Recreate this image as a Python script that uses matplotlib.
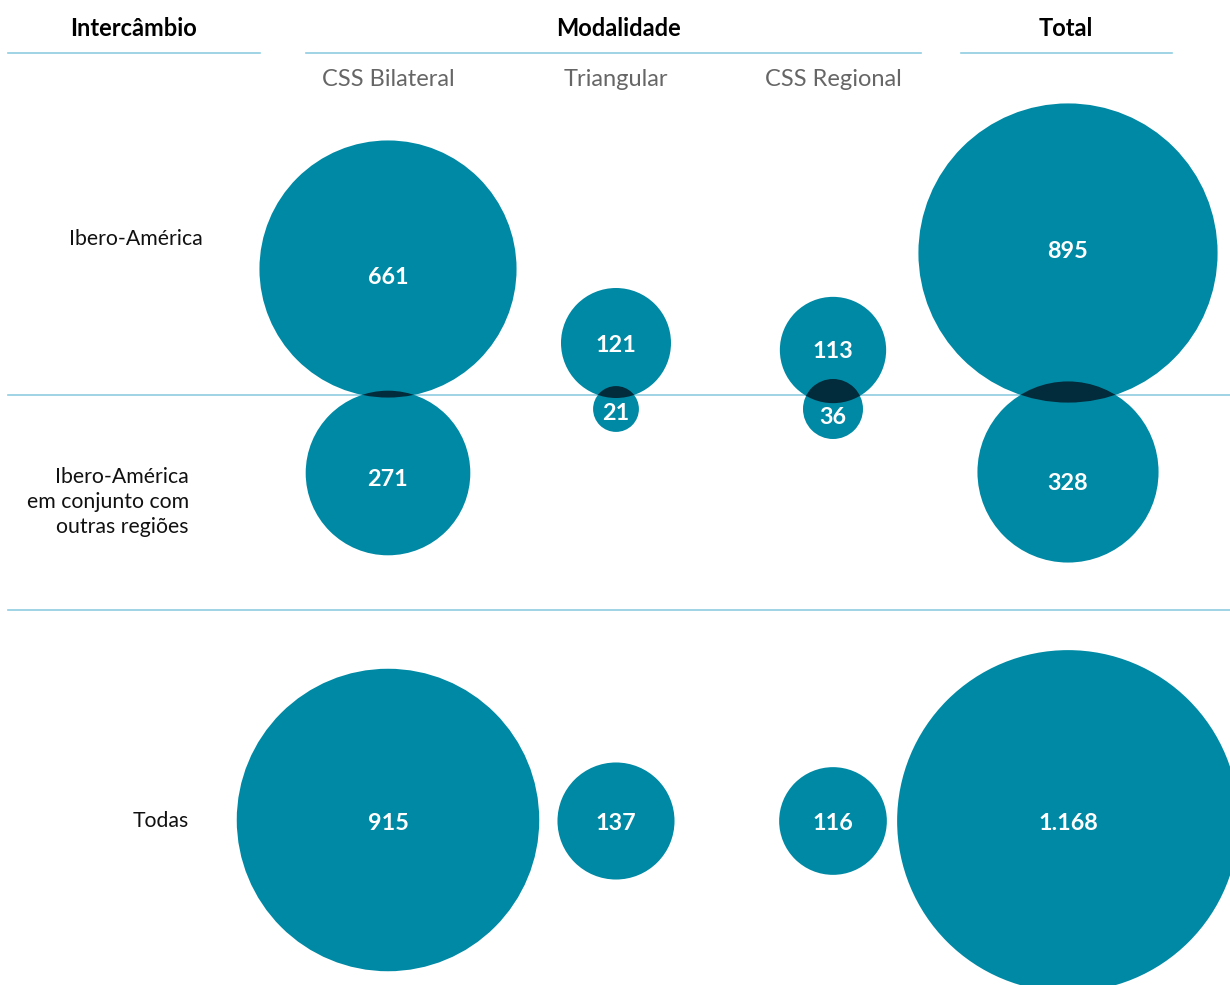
import matplotlib.pyplot as plt
from matplotlib.patches import Circle
import numpy as np

plt.rcParams['font.family'] = ['Lato', 'DejaVu Sans']

modalities = ["CSS Bilateral", "Triangular", "CSS Regional"]
ibero = [661, 121, 113, 895]
ibero_outras = [271, 21, 36, 328]
todas = [915, 137, 116, 1168]

teal = '#0089A4'
dark = '#022B3B'
rule = '#8FCDE2'

# layout (pixels)
col_x = [388, 616, 833, 1068]
row1_y = [269, 343, 350, 253]
row2_y = [473, 409, 409, 472]
row3_y = [820, 821, 821, 821]
row1_ty = [278, 345, 351, 252]
row2_ty = [479, 414, 418, 483]
row3_ty = [824, 824, 824, 824]
scale = 5.0


def fmt(v):
    return f"{v:,}".replace(",", ".")


fig = plt.figure(figsize=(12.3, 9.85), dpi=100)
ax = fig.add_axes([0, 0, 1, 1])
ax.set_xlim(0, 1230)
ax.set_ylim(985, 0)
ax.set_aspect('equal')
ax.axis('off')

# header rules and row dividers
ax.plot([8, 260], [53, 53], color=rule, lw=1.2)
ax.plot([306, 921], [53, 53], color=rule, lw=1.2)
ax.plot([961, 1172], [53, 53], color=rule, lw=1.2)
ax.plot([8, 1230], [395, 395], color=rule, lw=1.2)
ax.plot([8, 1230], [610, 610], color=rule, lw=1.2)

ax.text(134, 29, "Intercâmbio", ha='center', va='center', fontsize=17, fontweight='bold', color='black')
ax.text(619, 29, "Modalidade", ha='center', va='center', fontsize=17, fontweight='bold', color='black')
ax.text(1066, 29, "Total", ha='center', va='center', fontsize=17, fontweight='bold', color='black')
for x, m in zip(col_x, modalities):
    ax.text(x, 80, m, ha='center', va='center', fontsize=17, color='#666666')

ax.text(203, 239, "Ibero-América", ha='right', va='center', fontsize=15.3, color='#111111')
ax.text(189, 502, "Ibero-América\nem conjunto com\noutras regiões", ha='right', va='center',
        fontsize=15.3, color='#111111', linespacing=1.3, multialignment='right')
ax.text(189, 821, "Todas", ha='right', va='center', fontsize=15.3, color='#111111')

for vals, ys in [(ibero, row1_y), (ibero_outras, row2_y), (todas, row3_y)]:
    for x, y, v in zip(col_x, ys, vals):
        ax.add_patch(Circle((x, y), scale * np.sqrt(v), color=teal, lw=0, zorder=2))

# darker overlap between row 1 and row 2 circles
for i, x in enumerate(col_x):
    upper = Circle((x, row1_y[i]), scale * np.sqrt(ibero[i]), color='none', lw=0, zorder=1)
    ax.add_patch(upper)
    upper.set_visible(False)
    ov = Circle((x, row2_y[i]), scale * np.sqrt(ibero_outras[i]), color=dark, lw=0, zorder=3)
    ax.add_patch(ov)
    ov.set_clip_path(upper)

for vals, ys in [(ibero, row1_ty), (ibero_outras, row2_ty), (todas, row3_ty)]:
    for x, y, v in zip(col_x, ys, vals):
        ax.text(x, y, fmt(v), ha='center', va='center', fontsize=16.8,
                fontweight='bold', color='white', zorder=4)

fig.savefig('out.png', dpi=100)
